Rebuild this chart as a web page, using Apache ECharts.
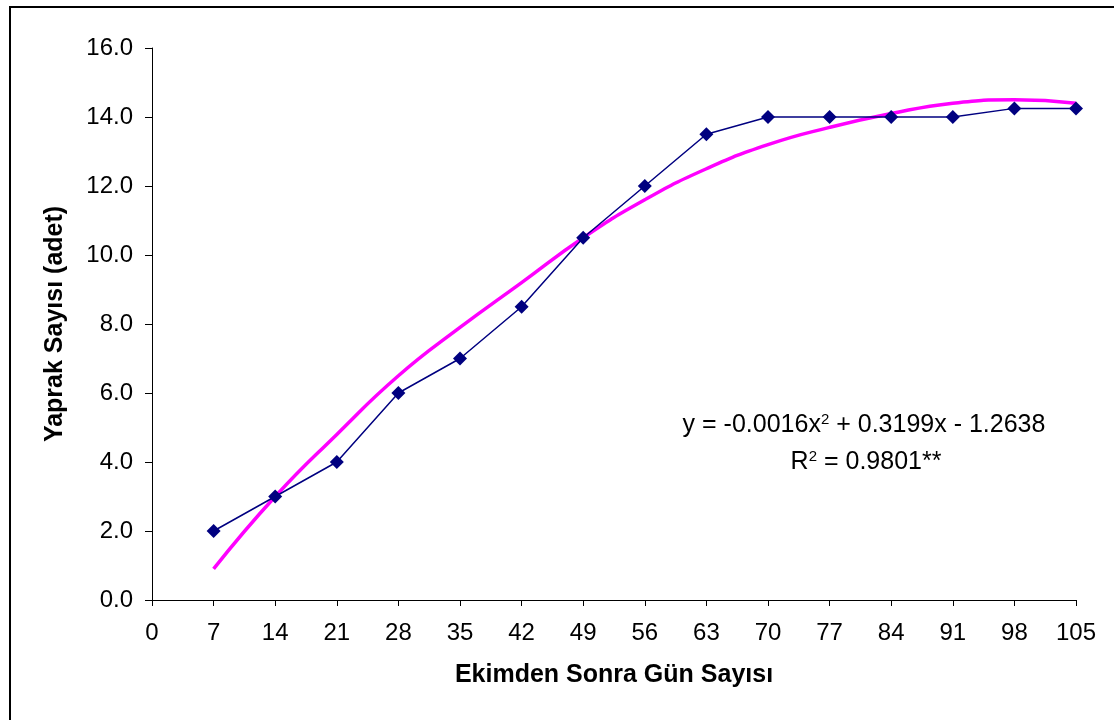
<!DOCTYPE html>
<html>
<head>
<meta charset="utf-8">
<script src="https://cdn.jsdelivr.net/npm/echarts@6/dist/echarts.min.js"></script>
<style>
  html, body { margin: 0; padding: 0; background: #fff; }
  #chart { width: 1114px; height: 720px; }
</style>
</head>
<body>
<div id="chart"></div>
<script>
// gün (x) ve ölçülen yaprak sayısı
const days = [7, 14, 21, 28, 35, 42, 49, 56, 63, 70, 77, 84, 91, 98, 105];
const leafCount = [2.0, 3.0, 4.0, 6.0, 7.0, 8.5, 10.5, 12.0, 13.5, 14.0, 14.0, 14.0, 14.0, 14.25, 14.25];
// trend çizgisi
const trendValues = [0.9, 3.0, 4.8, 6.5, 7.9, 9.2, 10.5, 11.6, 12.5, 13.2, 13.7, 14.1, 14.4, 14.5, 14.4];

const eqLine1 = 'y = -0.0016x';
const eqLine1b = ' + 0.3199x - 1.2638';
const eqLine2a = 'R';
const eqLine2b = ' = 0.9801**';

const chart = echarts.init(document.getElementById('chart'));

const font = '"Liberation Sans", Arial, sans-serif';
const axisStyle = { color: '#000', width: 1 };

const eqRich = {
  a: { fontFamily: font, fontSize: 25, color: '#000', verticalAlign: 'bottom' },
  s: { fontFamily: font, fontSize: 15, color: '#000', verticalAlign: 'top', padding: [0, 0, 10, 0] }
};

chart.setOption({
  backgroundColor: '#fff',
  animation: false,
  grid: { left: 152, right: 38, top: 48, bottom: 120 },
  xAxis: {
    type: 'value',
    min: 0,
    max: 105,
    interval: 7,
    name: 'Ekimden Sonra Gün Sayısı',
    nameLocation: 'center',
    nameGap: 63,
    nameTextStyle: { fontFamily: font, fontSize: 25, fontWeight: 'bold', color: '#000' },
    axisLine: { lineStyle: axisStyle },
    axisTick: { show: true, length: 6, lineStyle: axisStyle },
    axisLabel: { fontFamily: font, fontSize: 24, color: '#000', margin: 21 },
    splitLine: { show: false }
  },
  yAxis: {
    type: 'value',
    min: 0,
    max: 16,
    interval: 2,
    name: 'Yaprak Sayısı (adet)',
    nameLocation: 'center',
    nameGap: 84,
    nameTextStyle: { fontFamily: font, fontSize: 25, fontWeight: 'bold', color: '#000' },
    axisLine: { show: true, lineStyle: axisStyle },
    axisTick: { show: true, length: 7, lineStyle: axisStyle },
    axisLabel: { fontFamily: font, fontSize: 24, color: '#000', margin: 19,
      formatter: v => v.toFixed(1) },
    splitLine: { show: false }
  },
  series: [
    {
      name: 'trend',
      type: 'line',
      data: days.map((d, i) => [d, trendValues[i]]),
      smooth: true,
      showSymbol: false,
      lineStyle: { color: '#FF00FF', width: 3.5 },
      z: 2
    },
    {
      name: 'yaprak',
      type: 'line',
      data: days.map((d, i) => [d, leafCount[i]]),
      symbol: 'diamond',
      symbolSize: 14,
      itemStyle: { color: '#000080' },
      lineStyle: { color: '#000080', width: 1.5 },
      z: 3
    }
  ],
  graphic: [
    {
      type: 'rect',
      shape: { x: 10, y: 7, width: 1120, height: 730 },
      style: { fill: 'none', stroke: '#000', lineWidth: 2 },
      silent: true
    },
    {
      type: 'text',
      x: 864,
      y: 425,
      style: {
        text: '{a|' + eqLine1 + '}{s|2}{a|' + eqLine1b + '}',
        align: 'center',
        verticalAlign: 'middle',
        rich: eqRich
      }
    },
    {
      type: 'text',
      x: 866,
      y: 462,
      style: {
        text: '{a|' + eqLine2a + '}{s|2}{a|' + eqLine2b + '}',
        align: 'center',
        verticalAlign: 'middle',
        rich: eqRich
      }
    }
  ]
});
</script>
</body>
</html>
